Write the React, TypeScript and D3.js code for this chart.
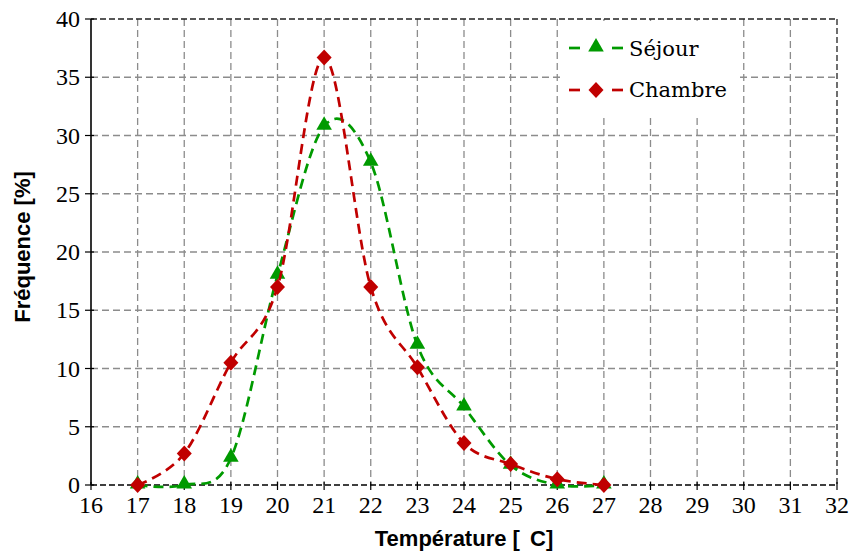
import React from "react";
import * as d3 from "d3";

const temperatures = [17, 18, 19, 20, 21, 22, 23, 24, 25, 26, 27];
const sejour = [0, 0, 2.3, 18.0, 30.8, 27.7, 12.0, 6.7, 1.7, 0, 0];
const chambre = [0, 2.7, 10.5, 17.0, 36.7, 17.0, 10.1, 3.6, 1.8, 0.5, 0];
const xTicks = d3.range(16, 33, 1);
const yTicks = [0, 5, 10, 15, 20, 25, 30, 35, 40];

const W = 854, H = 556;
const L = 91, R = 837, T = 19, B = 485;

export default function App() {
  const x = d3.scaleLinear().domain([16, 32]).range([L, R]);
  const y = d3.scaleLinear().domain([0, 40]).range([B, T]);
  const line = d3
    .line<[number, number]>()
    .x((d) => x(d[0]))
    .y((d) => y(d[1]))
    .curve(d3.curveCardinal.tension(0));

  const sej: [number, number][] = temperatures.map((t, i) => [t, sejour[i]]);
  const cha: [number, number][] = temperatures.map((t, i) => [t, chambre[i]]);
  const green = "#009a00";
  const red = "#c00000";
  const tri = d3.symbol().type(d3.symbolTriangle).size(105)() as string;
  const dia = `M0,-8L7.5,0L0,8L-7.5,0Z`;
  const tickFont = "'Liberation Serif', 'DejaVu Serif', serif";
  const legendFont = "'DejaVu Serif', serif";
  const titleFont = "'Liberation Sans', Arial, sans-serif";

  return (
    <svg
      width={W}
      height={H}
      style={{ position: "fixed", left: 0, top: 0, background: "#fff" }}
    >
      <rect x={0} y={0} width={W} height={H} fill="#fff" />
      {/* grid */}
      {xTicks.slice(1, -1).map((t) => (
        <line key={"gx" + t} x1={x(t)} x2={x(t)} y1={T} y2={B} stroke="#8c8c8c" strokeWidth={1.3} strokeDasharray="7,4" />
      ))}
      {yTicks.slice(1, -1).map((t) => (
        <line key={"gy" + t} x1={L} x2={R} y1={y(t)} y2={y(t)} stroke="#8c8c8c" strokeWidth={1.3} strokeDasharray="7,4" />
      ))}
      {/* plot border */}
      <line x1={L} x2={R} y1={T} y2={T} stroke="#222" strokeWidth={1.3} strokeDasharray="6,3" />
      <line x1={R} x2={R} y1={T} y2={B} stroke="#222" strokeWidth={1.3} strokeDasharray="6,3" />
      <line x1={L} x2={R} y1={B} y2={B} stroke="#000" strokeWidth={1.6} strokeDasharray="6,3" />
      <line x1={L} x2={L} y1={T} y2={B} stroke="#000" strokeWidth={1.6} />
      {/* ticks */}
      {xTicks.map((t) => (
        <line key={"tx" + t} x1={x(t)} x2={x(t)} y1={B - 3} y2={B + 5} stroke="#000" strokeWidth={1.2} />
      ))}
      {yTicks.map((t) => (
        <line key={"ty" + t} x1={L - 6} x2={L + 3} y1={y(t)} y2={y(t)} stroke="#000" strokeWidth={1.2} />
      ))}
      {xTicks.map((t) => (
        <text key={"lx" + t} x={x(t)} y={B + 28} textAnchor="middle" fontFamily={tickFont} fontSize={24} fill="#000">
          {t}
        </text>
      ))}
      {yTicks.map((t) => (
        <text key={"ly" + t} x={L - 11} y={y(t) + 8} textAnchor="end" fontFamily={tickFont} fontSize={24} fill="#000">
          {t}
        </text>
      ))}
      {/* axis titles */}
      <text x={(L + R) / 2} y={546} textAnchor="middle" fontFamily={titleFont} fontWeight="bold" fontSize={22} fill="#000">
        Température [<tspan dx={4}> C]</tspan>
      </text>
      <text
        transform={`translate(30, ${(T + B) / 2 - 5}) rotate(-90)`}
        textAnchor="middle"
        fontFamily={titleFont}
        fontWeight="bold"
        fontSize={22}
        fill="#000"
      >
        Fréquence [%]
      </text>
      {/* series */}
      <path d={line(sej) as string} fill="none" stroke={green} strokeWidth={2.7} strokeDasharray="10,6" />
      {sej.map((d, i) => (
        <path key={"ms" + i} d={tri} transform={`translate(${x(d[0])},${y(d[1]) - 1})`} fill={green} />
      ))}
      <path d={line(cha) as string} fill="none" stroke={red} strokeWidth={2.7} strokeDasharray="10,6" />
      {cha.map((d, i) => (
        <path key={"mc" + i} d={dia} transform={`translate(${x(d[0])},${y(d[1])})`} fill={red} />
      ))}
      {/* legend */}
      <rect x={560} y={21} width={177} height={93} fill="#fff" />
      <g>
        <line x1={569} x2={580} y1={48} y2={48} stroke={green} strokeWidth={2.7} />
        <line x1={612} x2={623} y1={48} y2={48} stroke={green} strokeWidth={2.7} />
        <path d={tri} transform="translate(596,47)" fill={green} />
        <text x={629} y={56} fontFamily={legendFont} fontSize={21} fill="#000">Séjour</text>
      </g>
      <g>
        <line x1={569} x2={580} y1={90} y2={90} stroke={red} strokeWidth={2.7} />
        <line x1={612} x2={623} y1={90} y2={90} stroke={red} strokeWidth={2.7} />
        <path d={dia} transform="translate(596,90)" fill={red} />
        <text x={629} y={97} fontFamily={legendFont} fontSize={21} fill="#000">Chambre</text>
      </g>
    </svg>
  );
}
